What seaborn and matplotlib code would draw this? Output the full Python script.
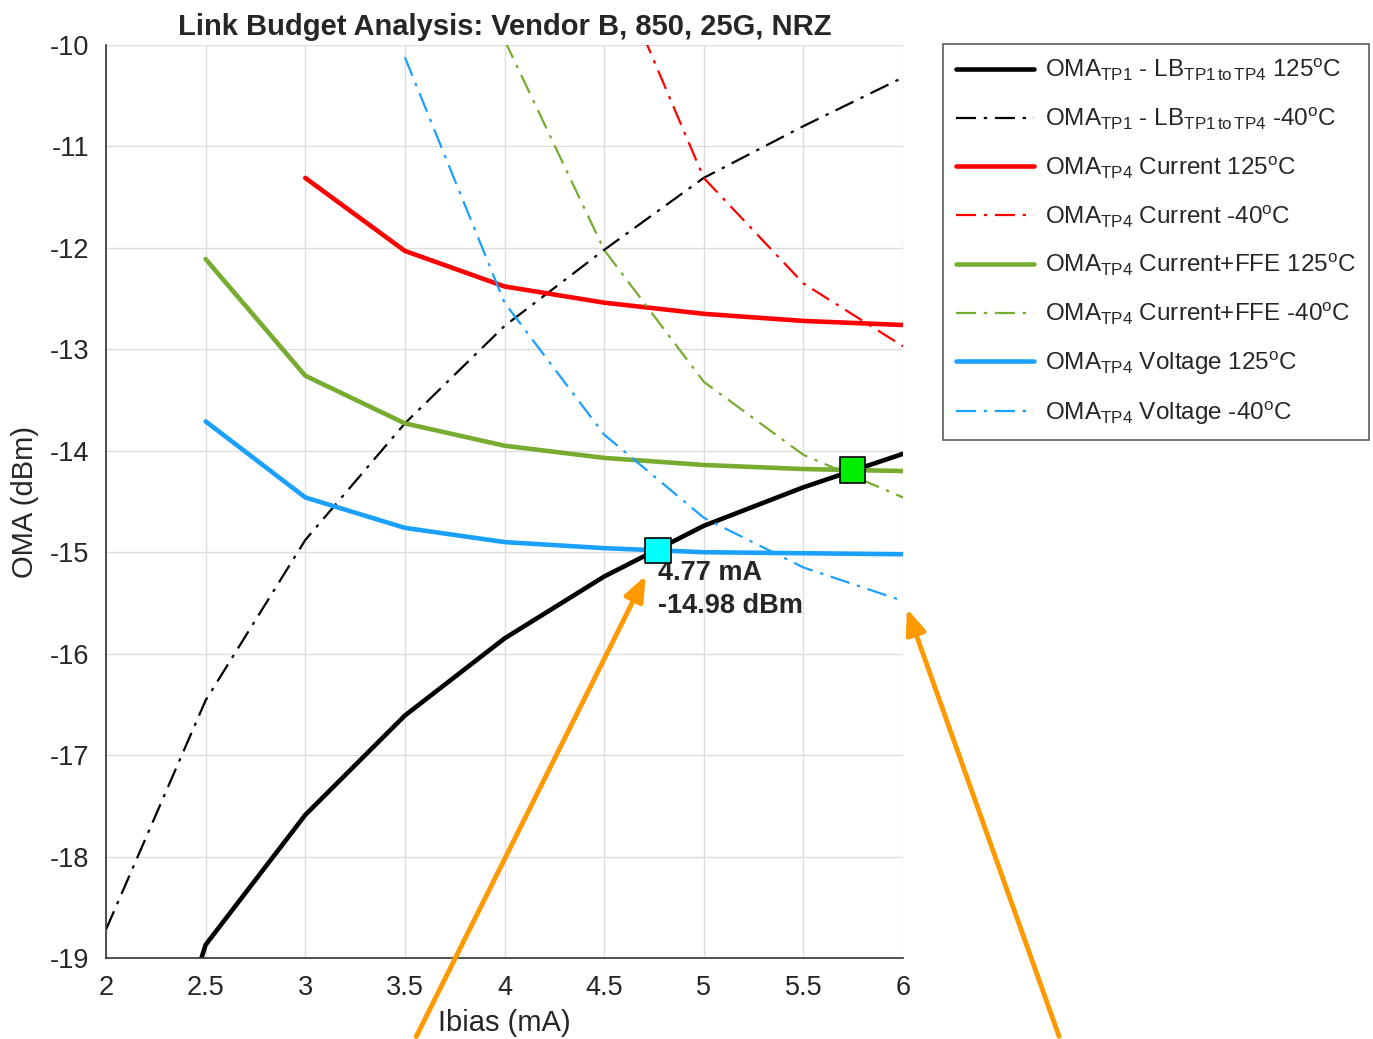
import matplotlib
matplotlib.use("Agg")
import matplotlib.pyplot as plt
import pandas as pd
import seaborn as sns

# Ibias (mA) grid for the curves
ibias = [2.0, 2.5, 3.0, 3.5, 4.0, 4.5, 5.0, 5.5, 6.0]

# OMA values (dBm)
lb_125 = [-22.0, -18.87, -17.59, -16.61, -15.85, -15.24, -14.74, -14.36, -14.03]
lb_m40 = [-18.72, -16.46, -14.88, -13.73, -12.77, -12.02, -11.31, -10.80, -10.32]
cur_125 = [None, None, -11.31, -12.03, -12.38, -12.54, -12.65, -12.72, -12.76]
cur_m40 = [None, None, None, None, None, -9.0, -11.31, -12.35, -12.97]
ffe_125 = [None, -12.11, -13.26, -13.73, -13.95, -14.07, -14.14, -14.18, -14.20]
ffe_m40 = [None, None, None, None, -9.95, -12.02, -13.32, -14.04, -14.46]
volt_125 = [None, -13.71, -14.46, -14.76, -14.90, -14.96, -15.00, -15.01, -15.02]
volt_m40 = [None, None, None, -10.12, -12.54, -13.84, -14.66, -15.15, -15.48]

# crossing points
cross_x = [4.77, 5.745]
cross_y = [-14.98, -14.19]
cross_colors = ["#00ffff", "#00ee00"]

labels = [
    r"OMA$_{TP1}$ - LB$_{TP1\,to\,TP4}$ 125$^{o}$C",
    r"OMA$_{TP1}$ - LB$_{TP1\,to\,TP4}$ -40$^{o}$C",
    r"OMA$_{TP4}$ Current 125$^{o}$C",
    r"OMA$_{TP4}$ Current -40$^{o}$C",
    r"OMA$_{TP4}$ Current+FFE 125$^{o}$C",
    r"OMA$_{TP4}$ Current+FFE -40$^{o}$C",
    r"OMA$_{TP4}$ Voltage 125$^{o}$C",
    r"OMA$_{TP4}$ Voltage -40$^{o}$C",
]
series = [lb_125, lb_m40, cur_125, cur_m40, ffe_125, ffe_m40, volt_125, volt_m40]
colors = ["black", "black", "#ff0000", "#ff0000", "#77ac30", "#77ac30", "#1aa0ff", "#1aa0ff"]

sns.set_style("white")
plt.rcParams["font.family"] = ["Liberation Sans", "DejaVu Sans"]
plt.rcParams["mathtext.fontset"] = "custom"
plt.rcParams["mathtext.rm"] = "Liberation Sans"
plt.rcParams["mathtext.it"] = "Liberation Sans"
plt.rcParams["mathtext.default"] = "regular"
plt.rcParams["axes.unicode_minus"] = False

fig = plt.figure(figsize=(13.73, 10.39), dpi=100)
ax = fig.add_axes([106 / 1373, 1 - 958 / 1039, 797 / 1373, 913 / 1039])

dashdot = (0, (9, 3.5, 1.5, 3.5))
for i, (vals, col, lab) in enumerate(zip(series, colors, labels)):
    df = pd.DataFrame({"x": ibias, "y": vals}).dropna()
    solid = i % 2 == 0
    sns.lineplot(data=df, x="x", y="y", ax=ax, color=col, label=lab,
                 linewidth=3.3 if solid else 1.6,
                 linestyle="-" if solid else dashdot)

sns.scatterplot(x=cross_x, y=cross_y, ax=ax, marker="s", s=330,
                c=cross_colors, edgecolor="black", linewidth=1.2, zorder=5, legend=False)

ax.set_xlim(2, 6)
ax.set_ylim(-19, -10)
ax.set_xticks([2, 2.5, 3, 3.5, 4, 4.5, 5, 5.5, 6])
ax.set_xticklabels(["2", "2.5", "3", "3.5", "4", "4.5", "5", "5.5", "6"])
ax.set_yticks(range(-19, -9))
ax.grid(True, color="#dddddd", linewidth=1)
for s in ["top", "right"]:
    ax.spines[s].set_visible(False)
for s in ["left", "bottom"]:
    ax.spines[s].set_color("#333333")
    ax.spines[s].set_linewidth(1.2)
ax.tick_params(direction="in", length=7, width=1.2, colors="#333333",
               labelsize=19.5, pad=12, labelcolor="#262626")
ax.set_xlabel("Ibias (mA)", fontsize=21, color="#262626", labelpad=6)
ax.set_ylabel("OMA (dBm)", fontsize=21, color="#262626", labelpad=8)
ax.set_title("Link Budget Analysis: Vendor B, 850, 25G, NRZ", fontsize=21,
             fontweight="bold", pad=7)

ax.text(4.77, -15.08, "4.77 mA\n-14.98 dBm", fontsize=19.5, fontweight="bold",
        va="top", ha="left", linespacing=1.35)

leg = ax.legend(loc="upper left", bbox_to_anchor=(943 / 1373, 1 - 44 / 1039),
                bbox_transform=fig.transFigure, fontsize=17.5, handlelength=3.2,
                labelspacing=0.93, frameon=True, fancybox=False, borderpad=0.55,
                handletextpad=0.45, borderaxespad=0)
leg.get_frame().set_edgecolor("#333333")
leg.get_frame().set_linewidth(1.2)

# orange arrows pointing to the crossing region
arrow_kw = dict(arrowstyle="-|>,head_length=1.5,head_width=0.6", color="#ff9900", lw=3.5)
ax.annotate("", xy=(647 / 1373, 1 - 573 / 1039), xytext=(415 / 1373, 0),
            xycoords="figure fraction", textcoords="figure fraction",
            arrowprops=arrow_kw, annotation_clip=False)
ax.annotate("", xy=(906 / 1373, 1 - 606 / 1039), xytext=(1060 / 1373, 0),
            xycoords="figure fraction", textcoords="figure fraction",
            arrowprops=arrow_kw, annotation_clip=False)

fig.savefig("out.png", dpi=100)
